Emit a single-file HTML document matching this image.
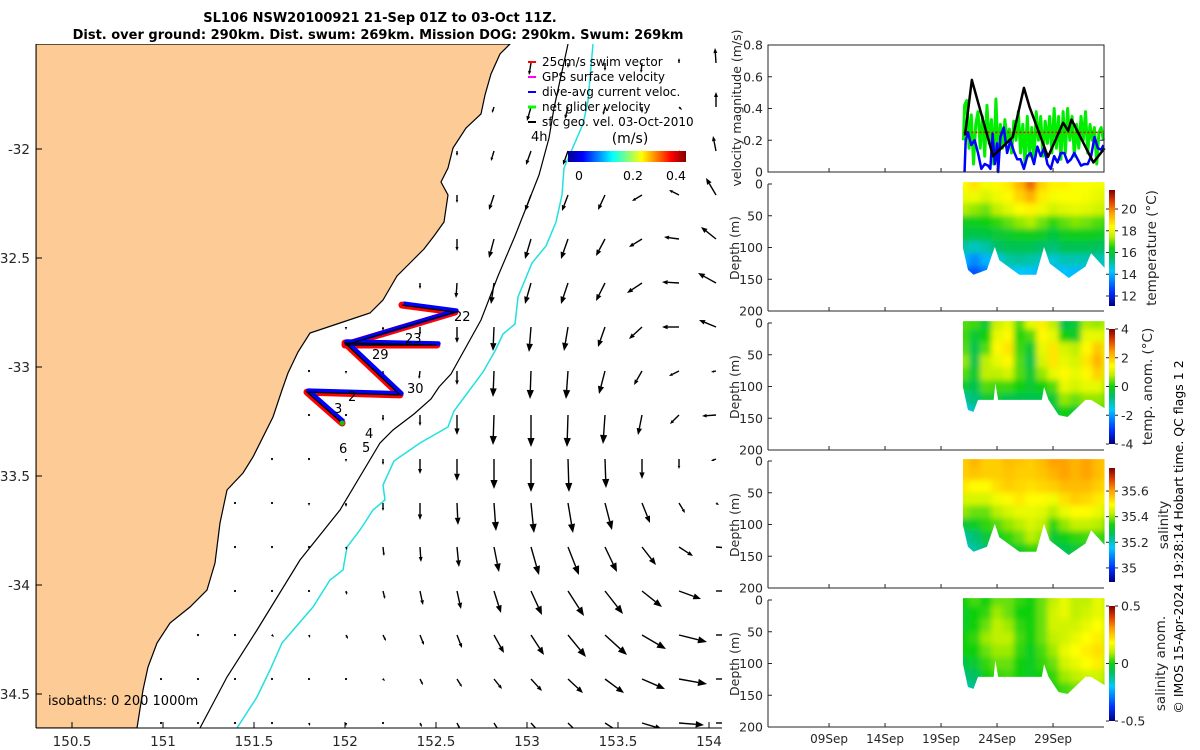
<!DOCTYPE html>
<html><head><meta charset="utf-8">
<style>
html,body{margin:0;padding:0;background:#fff;}
svg{display:block;font-family:"DejaVu Sans","Liberation Sans",sans-serif;}
</style></head>
<body>
<svg id="fig" width="1200" height="750" viewBox="0 0 1200 750" xmlns="http://www.w3.org/2000/svg">
<defs>
  <clipPath id="mapclip"><rect x="36" y="44" width="686" height="684"/></clipPath>
  <linearGradient id="jetH" x1="0" y1="0" x2="1" y2="0">
    <stop offset="0" stop-color="#00008f"/><stop offset="0.125" stop-color="#0000ff"/><stop offset="0.375" stop-color="#00ffff"/><stop offset="0.625" stop-color="#ffff00"/><stop offset="0.875" stop-color="#ff0000"/><stop offset="1" stop-color="#800000"/>
  </linearGradient>
  <linearGradient id="jetV" x1="0" y1="1" x2="0" y2="0">
    <stop offset="0" stop-color="#000080"/><stop offset="0.12" stop-color="#0030ff"/><stop offset="0.3" stop-color="#00c8ff"/><stop offset="0.42" stop-color="#00c060"/><stop offset="0.5" stop-color="#10d010"/><stop offset="0.6" stop-color="#c0f000"/><stop offset="0.68" stop-color="#ffff00"/><stop offset="0.8" stop-color="#ffa000"/><stop offset="0.9" stop-color="#e04000"/><stop offset="1" stop-color="#800000"/>
  </linearGradient>
  <filter id="blur" x="-20%" y="-20%" width="140%" height="140%"><feGaussianBlur stdDeviation="3"/></filter>
</defs>

<text x="380" y="22" text-anchor="middle" font-size="13" font-weight="bold" fill="#000">SL106 NSW20100921 21-Sep 01Z to 03-Oct 11Z.</text>
<text x="378" y="39" text-anchor="middle" font-size="13" font-weight="bold" fill="#000">Dist. over ground: 290km. Dist. swum: 269km. Mission DOG: 290km. Swum: 269km</text>

<g id="map">
  <g clip-path="url(#mapclip)">
    <rect x="36" y="44" width="686" height="684" fill="#fff"/>
    <path fill="#fccb96" stroke="#000" stroke-width="1.2"
      d="M36,44 L510,44 L500,54 L491,74 L485,95 L481,114 L466,128 L453,148 L448,168 L441,182 L448,195 L444,222 L434,236 L424,249 L410,263 L397,276 L383,300 L370,313 L340,323 L310,333 L298,352 L288,373 L282,390 L273,417 L253,457 L243,473 L227,490 L220,523 L215,563 L207,590 L190,607 L170,623 L157,643 L148,667 L143,690 L137,728 L36,728 Z"/>
    <path fill="none" stroke="#000" stroke-width="1.2"
      d="M568,44 L554,108 L549,138 L539,175 L515,236 L498,276 L481,320 L451,374 L439,387 L431,399 L414,414 L393,430 L380,443 L340,510 L300,560 L257,630 L227,677 L200,728"/>
    <path fill="none" stroke="#22e0e0" stroke-width="1.5"
      d="M593,44 L588,101 L583,124 L564,168 L562,195 L556,222 L546,246 L532,263 L518,297 L515,324 L503,334 L495,351 L483,372 L454,411 L448,427 L420,443 L394,461 L383,485 L385,500 L373,510 L360,530 L347,547 L343,570 L330,580 L313,607 L282,643 L270,670 L257,697 L237,728"/>
    <g id="arrows"></g>
    <g id="track"></g>
    <g font-size="13" fill="#000">
      <text x="454" y="321">22</text><text x="405" y="343">23</text><text x="372" y="359">29</text>
      <text x="407" y="393">30</text><text x="348" y="401">2</text><text x="334" y="413">3</text>
      <text x="365" y="438">4</text><text x="362" y="452">5</text><text x="339" y="453">6</text>
      <text x="531" y="141">4h</text>
    </g>
    <g font-size="12" fill="#000">
      <line x1="528" y1="62" x2="536" y2="62" stroke="#f00" stroke-width="2"/><text x="542" y="66">25cm/s swim vector</text>
      <line x1="528" y1="77" x2="536" y2="77" stroke="#f0f" stroke-width="2"/><text x="542" y="81">GPS surface velocity</text>
      <line x1="528" y1="92" x2="536" y2="92" stroke="#00f" stroke-width="2"/><text x="542" y="96">dive-avg current veloc.</text>
      <line x1="528" y1="107" x2="536" y2="107" stroke="#0f0" stroke-width="3"/><text x="542" y="111">net glider velocity</text>
      <line x1="528" y1="122" x2="536" y2="122" stroke="#000" stroke-width="2"/><text x="542" y="126">sfc geo. vel. 03-Oct-2010</text>
    </g>
    <g>
      <text x="630" y="143" text-anchor="middle" font-size="14">(m/s)</text>
      <rect x="568" y="151" width="118" height="11" fill="url(#jetH)"/>
      <text x="579" y="180" text-anchor="middle" font-size="12.5">0</text>
      <text x="633" y="180" text-anchor="middle" font-size="12.5">0.2</text>
      <text x="676" y="180" text-anchor="middle" font-size="12.5">0.4</text>
    </g>
    <text x="48" y="705" font-size="13" fill="#000">isobaths: 0  200  1000m</text>
  </g>
  <line x1="36" y1="44" x2="36" y2="728" stroke="#000" stroke-width="1"/>
  <line x1="36" y1="728" x2="722" y2="728" stroke="#000" stroke-width="1"/>
  <g id="mapticks" font-size="13.5" fill="#262626"></g>
</g>

<g id="right"></g>

<text transform="translate(1183,537) rotate(-90)" text-anchor="middle" font-size="12.5" fill="#000">© IMOS 15-Apr-2024 19:28:14 Hobart time. QC flags 1  2</text>
</svg>

<script>
// ---------- DATA ----------
const lonTicks = [150.5,151,151.5,152,152.5,153,153.5,154];
const latTicks = [-32,-32.5,-33,-33.5,-34,-34.5];
const trackLon = [152.313,152.604,152.0,152.505,152.0,152.302,151.791,151.984];
const trackLat = [-32.716,-32.748,-32.899,-32.899,-32.890,-33.128,-33.115,-33.257];
const velU = [
 [null,null,null,null,null,null,null,null,null,null,-0.02,0,0,-0.01,0,-0.01],
 [null,null,null,null,null,null,null,null,null,-0.02,-0.04,-0.03,-0.02,0,0.03,0],
 [null,null,null,null,null,null,null,null,0,-0.03,-0.05,-0.05,-0.04,-0.03,0.05,-0.03],
 [null,null,null,null,null,null,null,null,0,-0.05,-0.06,-0.06,-0.07,-0.10,-0.10,-0.10],
 [null,null,null,null,null,null,null,null,0,-0.05,-0.06,-0.07,-0.09,-0.13,-0.15,-0.15],
 [null,null,null,null,null,null,null,0,-0.01,-0.03,-0.06,-0.07,-0.09,-0.15,-0.17,-0.18],
 [null,null,null,null,null,0,0,0,0,-0.01,-0.02,-0.04,-0.07,-0.13,-0.17,-0.17],
 [null,null,null,null,0,0,0,-0.01,0,-0.01,-0.01,-0.02,-0.06,-0.08,-0.10,-0.05],
 [null,null,null,null,0,0,0,0,0,-0.01,0,-0.01,-0.02,-0.04,-0.09,-0.14],
 [null,null,null,0,0,0,0,0,0,0,0,0.01,0.01,0,0,-0.05],
 [null,null,0,0,0,0,0,0,0.01,0.02,0.03,0.05,0.07,0.08,0.06,0.03],
 [null,null,0,0,0,0.01,0.01,0.01,0.02,0.05,0.08,0.11,0.12,0.14,0.14,0.12],
 [null,null,0,0,0.01,0.01,0.02,0.03,0.04,0.07,0.11,0.16,0.18,0.20,0.22,0.15],
 [null,0.01,0.01,0.02,0.01,0.02,0.03,0.04,0.05,0.10,0.13,0.18,0.22,0.24,0.28,0.15],
 [0.01,0.01,0.02,0.01,0.01,0.01,0.02,0.03,0.05,0.08,0.11,0.15,0.19,0.23,0.28,0.15],
 [0,0.01,0.02,0.01,0.01,0,0.01,0.02,0.03,0.05,0.08,0.10,0.14,0.20,0.25,0.15]
];
const velV = [
 [null,null,null,null,null,null,null,null,null,null,-0.12,-0.05,-0.08,-0.10,0.05,0.15],
 [null,null,null,null,null,null,null,null,null,-0.06,-0.14,-0.12,-0.08,-0.06,-0.03,0.15],
 [null,null,null,null,null,null,null,null,-0.05,-0.10,-0.14,-0.14,-0.10,-0.08,-0.05,0.15],
 [null,null,null,null,null,null,null,null,-0.08,-0.15,-0.16,-0.16,-0.15,-0.06,0.05,0.17],
 [null,null,null,null,null,null,null,null,-0.12,-0.19,-0.20,-0.20,-0.17,-0.08,0.02,0.12],
 [null,null,null,null,null,null,null,-0.06,-0.15,-0.21,-0.21,-0.21,-0.18,-0.10,0.01,0.10],
 [null,null,null,null,null,-0.03,-0.04,-0.08,-0.16,-0.24,-0.25,-0.24,-0.20,-0.12,0,0.07],
 [null,null,null,null,-0.02,-0.03,-0.05,-0.08,-0.14,-0.26,-0.28,-0.28,-0.23,-0.14,-0.05,-0.01],
 [null,null,null,null,-0.02,-0.02,-0.06,-0.11,-0.20,-0.30,-0.32,-0.32,-0.29,-0.20,-0.09,-0.01],
 [null,null,null,-0.02,-0.02,-0.03,-0.06,-0.15,-0.22,-0.30,-0.33,-0.33,-0.29,-0.20,-0.10,-0.02],
 [null,null,-0.02,-0.02,-0.03,-0.04,-0.08,-0.17,-0.22,-0.28,-0.30,-0.30,-0.27,-0.20,-0.10,-0.02],
 [null,null,-0.02,-0.02,-0.02,-0.03,-0.09,-0.15,-0.20,-0.25,-0.28,-0.28,-0.25,-0.18,-0.09,-0.01],
 [null,null,-0.02,-0.02,-0.02,-0.04,-0.08,-0.14,-0.18,-0.22,-0.24,-0.25,-0.23,-0.16,-0.08,0],
 [null,-0.01,-0.02,-0.02,-0.03,-0.04,-0.06,-0.10,-0.13,-0.18,-0.20,-0.22,-0.20,-0.14,-0.07,0],
 [-0.01,-0.01,-0.01,-0.02,-0.02,-0.01,-0.02,-0.06,-0.08,-0.10,-0.12,-0.14,-0.14,-0.10,-0.05,0],
 [-0.01,-0.01,-0.01,-0.02,-0.03,-0.03,-0.02,-0.04,-0.06,-0.08,-0.09,-0.10,-0.09,-0.06,-0.02,0]
];
const velTicks = [0,0.2,0.4,0.6,0.8];
const timeTickDays = [9,14,19,24,29];
const timeTickLabels = ["09Sep","14Sep","19Sep","24Sep","29Sep"];
const geoT = [21.14,21.75,23.64,25.4,26.4,26.9,28.55,29.9,30.35,30.65,32.6,33.6];
const geoV = [0.23,0.58,0.10,0.22,0.53,0.41,0.095,0.31,0.26,0.33,0.06,0.15];
const dacT = [21.1,21.2,21.4,21.7,22.0,22.3,22.6,22.9,23.2,23.4,23.6,23.8,24.0,24.1,24.3,24.6,24.9,25.2,25.5,25.8,26.1,26.4,26.7,27.0,27.3,27.6,27.9,28.2,28.5,28.8,29.1,29.4,29.7,30.0,30.3,30.6,30.9,31.2,31.5,31.8,32.1,32.4,32.7,33.0,33.3,33.5];
const dacV = [0.0,0.2,0.25,0.17,0.2,0.12,0.02,0.05,0.04,0.02,0.24,0.05,0.18,0.0,0.22,0.28,0.12,0.2,0.13,0.08,0.08,0.02,0.1,0.12,0.05,0.16,0.1,0.15,0.05,0.02,0.1,0.06,0.12,0.12,0.06,0.08,0.12,0.08,0.04,0.05,0.05,0.1,0.22,0.15,0.14,0.17];
const netT = [21.0,21.1,21.3,21.5,21.7,21.9,22.1,22.3,22.5,22.7,22.9,23.1,23.3,23.5,23.7,23.9,24.1,24.3,24.5,24.7,24.9,25.1,25.3,25.5,25.7,25.9,26.1,26.3,26.5,26.7,26.9,27.1,27.3,27.5,27.7,27.9,28.1,28.3,28.5,28.7,28.9,29.1,29.3,29.5,29.7,29.9,30.1,30.3,30.5,30.7,30.9,31.1,31.3,31.5,31.7,31.9,32.1,32.3,32.5,32.7,32.9,33.1,33.3,33.5];
const netV = [0.2,0.42,0.45,0.15,0.36,0.05,0.3,0.38,0.15,0.35,0.1,0.42,0.18,0.33,0.05,0.46,0.1,0.3,0.15,0.33,0.2,0.27,0.12,0.32,0.2,0.38,0.12,0.3,0.05,0.35,0.1,0.28,0.08,0.38,0.2,0.35,0.1,0.32,0.18,0.35,0.12,0.4,0.15,0.35,0.08,0.38,0.12,0.4,0.2,0.35,0.1,0.3,0.15,0.35,0.2,0.38,0.12,0.3,0.2,0.28,0.05,0.25,0.28,0.2];
const swimT = [21.0,33.5];
const swimV = [0.25,0.25];
const secDays = [21,22,23,24,25,26,27,28,29,30,31,32,33,34];
const secDepths = [0,20,40,60,80,100,120,140];
const depthTicks = [0,50,100,150,200];
const bottomDaysT = [20.96,21.4,21.9,23.1,23.8,24.2,26.0,27.5,28.2,28.7,30.4,31.9,32.4,33.6];
const bottomDepthT = [101,135,143,135,99,120,143,143,99,125,148,130,109,132];
const bottomDaysA = [20.96,21.4,21.9,22.3,22.8,23.7,23.85,24.1,28.0,28.2,28.6,29.5,30.3,31.9,32.4,33.6];
const bottomDepthA = [101,137,140,121,121,121,95,121,121,101,121,145,148,121,121,134];
const tempVals = [
 [18.4,18.7,18.2,18.4,18.6,19.3,20.2,18.9,18.5,18.5,18.3,18.3,18.2,18.2],
 [18.1,18.1,17.8,18.1,18.4,18.9,19.4,18.6,18.2,18.3,18.3,18.2,18.0,17.9],
 [17.4,17.2,17.0,17.5,17.9,18.3,18.5,18.1,17.7,17.9,18.0,17.9,17.7,17.5],
 [16.2,16.3,16.4,16.6,16.9,17.2,17.4,17.0,16.6,16.9,17.1,17.0,16.8,16.6],
 [15.9,15.8,15.9,16.0,16.1,16.3,16.3,16.2,15.9,16.2,16.3,16.3,16.2,16.1],
 [15.0,14.8,15.0,15.5,15.7,15.7,15.7,15.5,15.4,15.7,15.7,15.7,15.6,15.4],
 [14.0,13.5,14.0,14.5,15.0,15.1,15.0,14.8,14.6,14.9,14.9,14.9,14.9,14.7],
 [13.0,12.8,13.3,14.0,14.2,14.3,14.2,14.0,14.0,14.2,14.1,14.2,14.1,14.0]
];
const tempAnomVals = [
 [0.3,0.2,-0.3,0.9,1.2,0.3,1.2,1.6,0.8,-0.5,-0.3,0.7,0.6,0.8],
 [0.2,-0.3,0.0,1.2,1.5,0.1,0.3,1.5,1.2,0.0,-0.2,1.2,1.2,1.0],
 [0.3,-0.5,0.3,1.5,1.7,0.2,-0.3,1.2,1.7,1.0,0.8,1.5,2.0,1.2],
 [0.6,-0.5,0.8,1.2,1.5,0.3,-0.5,1.0,1.7,1.2,1.0,1.7,2.2,1.2],
 [0.3,-0.3,0.8,0.8,1.0,0.3,-0.3,0.6,1.2,1.5,1.2,1.5,1.9,1.0],
 [-0.3,-0.5,0.3,0.2,0.2,0.0,-0.3,0.0,0.3,1.2,1.0,1.2,1.2,0.6],
 [-1.0,-0.8,-0.3,-0.3,-0.5,-0.5,-0.5,-0.5,-0.3,0.6,0.4,0.6,0.6,0.4],
 [-1.5,-1.2,-0.5,-0.5,-0.5,-0.5,-0.5,-0.5,-0.5,0.0,-0.3,0.0,0.2,0.2]
];
const salVals = [
 [35.55,35.58,35.55,35.55,35.57,35.56,35.55,35.57,35.6,35.6,35.58,35.6,35.57,35.55],
 [35.55,35.56,35.55,35.55,35.56,35.55,35.55,35.56,35.58,35.6,35.58,35.6,35.57,35.55],
 [35.52,35.5,35.5,35.53,35.55,35.54,35.53,35.54,35.55,35.57,35.57,35.57,35.55,35.53],
 [35.45,35.45,35.45,35.48,35.5,35.52,35.5,35.5,35.48,35.53,35.55,35.54,35.52,35.48],
 [35.4,35.38,35.38,35.42,35.45,35.47,35.47,35.46,35.42,35.47,35.5,35.5,35.47,35.43],
 [35.3,35.32,35.35,35.37,35.4,35.42,35.45,35.43,35.35,35.4,35.43,35.43,35.42,35.38],
 [35.22,35.25,35.3,35.32,35.35,35.38,35.42,35.4,35.3,35.33,35.35,35.36,35.36,35.33],
 [35.18,35.22,35.25,35.28,35.3,35.32,35.35,35.35,35.28,35.28,35.3,35.3,35.3,35.3]
];
const salAnomVals = [
 [0.0,0.03,0.0,0.05,0.05,0.02,0.0,0.05,0.1,0.15,0.1,0.1,0.15,0.1],
 [-0.02,0.0,0.02,0.08,0.05,0.0,0.0,0.05,0.12,0.15,0.1,0.12,0.15,0.12],
 [-0.02,0.0,0.05,0.1,0.08,0.02,0.0,0.05,0.12,0.12,0.12,0.15,0.18,0.12],
 [0.0,0.02,0.08,0.1,0.1,0.03,0.0,0.05,0.1,0.12,0.15,0.18,0.2,0.12],
 [0.0,0.0,0.05,0.08,0.08,0.02,-0.02,0.03,0.08,0.15,0.18,0.2,0.22,0.12],
 [-0.05,-0.03,0.02,0.05,0.05,0.0,-0.02,0.02,0.05,0.12,0.15,0.18,0.2,0.1],
 [-0.1,-0.08,0.0,0.02,0.03,0.0,-0.02,0.0,0.02,0.08,0.1,0.12,0.12,0.08],
 [-0.15,-0.12,-0.03,0.0,0.0,-0.02,-0.02,0.0,0.0,0.03,0.05,0.06,0.08,0.05]
];
const tempCbTicks = [12,14,16,18,20];
const tempAnomCbTicks = [-4,-2,0,2,4];
const salCbTicks = [35,35.2,35.4,35.6];
const salAnomCbTicks = [-0.5,0,0.5];

// ---------- HELPERS ----------
const NS = "http://www.w3.org/2000/svg";
function mk(tag, attrs, parent){ const e=document.createElementNS(NS,tag); for(const k in attrs) e.setAttribute(k,attrs[k]); if(parent) parent.appendChild(e); return e; }
const lonX = lon => 72 + (lon-150.5)*182;
const latY = lat => 149 + (-32-lat)*218;
const CMAP = [[0,[0,0,128]],[0.12,[0,48,255]],[0.3,[0,200,255]],[0.42,[0,192,96]],[0.5,[16,208,16]],[0.6,[192,240,0]],[0.68,[255,255,0]],[0.8,[255,160,0]],[0.9,[224,64,0]],[1,[128,0,0]]];
function cmap(v){ v=Math.max(0,Math.min(1,v));
  for(let i=1;i<CMAP.length;i++){ if(v<=CMAP[i][0]){ const a=CMAP[i-1],b=CMAP[i],f=(v-a[0])/(b[0]-a[0]);
    return `rgb(${[0,1,2].map(k=>Math.round(a[1][k]+(b[1][k]-a[1][k])*f)).join(',')})`; } }
  return 'rgb(128,0,0)'; }

// ---------- MAP TICKS ----------
const mt = document.getElementById('mapticks');
lonTicks.forEach(l=>{
  const x=lonX(l);
  const t=mk('line',{x1:x,y1:728,x2:x,y2:722,stroke:'#000'},mt);
  
  
  const tx=mk('text',{x:x,y:746,'text-anchor':'middle'},mt); tx.textContent=String(l);
  
  
});
latTicks.forEach(l=>{
  const y=latY(l);
  const t=mk('line',{x1:36,y1:y,x2:42,y2:y,stroke:'#000'},mt);
  
  
  const tx=mk('text',{x:30,y:y+5,'text-anchor':'end'},mt); tx.textContent=String(l);
  
  
});

// ---------- ARROWS ----------
const ag = document.getElementById('arrows');
const PXPERMS = 100, col0 = 161, colStep = 37, row0 = 63, rowStep = 44;
velU.forEach((row,r)=>row.forEach((u,c)=>{
  const v = velV[r][c]; if(u===null||v===null) return;
  const x0 = col0 + c*colStep, y0 = row0 + r*rowStep;
  const dx = u*PXPERMS, dy = -v*PXPERMS, L = Math.hypot(dx,dy);
  const g = mk('g',{},ag);
  
  
  if(L<2.5){ mk('circle',{cx:x0,cy:y0,r:1.1,fill:'#000'},g); return; }
  const ux=dx/L, uy=dy/L, x1=x0+dx, y1=y0+dy;
  const hl=Math.min(9,Math.max(3,L*0.33)), hw=hl*0.4;
  const bx=x1-ux*hl, by=y1-uy*hl;
  mk('line',{x1:x0,y1:y0,x2:bx,y2:by,stroke:'#000','stroke-width':1.4},g);
  mk('polygon',{points:`${x1},${y1} ${bx-uy*hw},${by+ux*hw} ${bx+uy*hw},${by-ux*hw}`,fill:'#000'},g);
}));

// ---------- TRACK ----------
const tg = document.getElementById('track');
const tpts = trackLon.map((l,i)=>`${lonX(l)},${latY(trackLat[i])}`).join(' ');
const tpR = mk('polyline',{points:tpts,fill:'none',stroke:'#f00','stroke-width':7,'stroke-linejoin':'round','stroke-linecap':'round'},tg);


const tpB = mk('polyline',{points:trackLon.map((l,i)=>`${lonX(l)+1.5},${latY(trackLat[i])-1.5}`).join(' '),fill:'none',stroke:'#0000ff','stroke-width':4.5,'stroke-linejoin':'round'},tg);


const tpK = mk('polyline',{points:tpts,fill:'none',stroke:'#000','stroke-width':1.3},tg);


mk('circle',{cx:lonX(trackLon[7]),cy:latY(trackLat[7]),r:2.5,fill:'#0c0'},tg);

// ---------- RIGHT PANELS ----------
const R = document.getElementById('right');
const PX0=768, PX1=1104, T0=3.55, T1=33.55;
const tX = t => PX0 + (t-T0)/(T1-T0)*(PX1-PX0);

function txt(parent,x,y,s,anchor,size,name){
  const e=mk('text',{x:x,y:y,'text-anchor':anchor||'end','font-size':size||12.5,fill:'#262626'},parent); e.textContent=s;
  
  
  return e;
}
function vlabel(parent,x,y,s,size,name){
  const e=mk('text',{transform:`translate(${x},${y}) rotate(-90)`,'text-anchor':'middle','font-size':size||12.5,fill:'#262626'},parent); e.textContent=s;
  
  
}

(function(){
  const top=45, bot=172;
  const vY = v => bot - v/0.8*(bot-top);
  const g = mk('g',{},R);
  
  
  const mkLine=(T,V,color,w,name,dash)=>{
    const p=mk('polyline',{points:T.map((t,i)=>`${tX(t)},${vY(V[i])}`).join(' '),fill:'none',stroke:color,'stroke-width':w,'stroke-linejoin':'round'},g);
    if(dash) p.setAttribute('stroke-dasharray',dash);
    
    
  };
  mkLine(netT,netV,'#00ee00',3,'net-glider-velocity-line');
  mkLine(swimT,swimV,'#f00',1.5,'swim-speed-line','2,2');
  mkLine(dacT,dacV,'#0000ff',2.5,'dive-avg-current-line');
  mkLine(geoT,geoV,'#000',2.5,'sfc-geo-velocity-line');
  mk('rect',{x:PX0,y:top,width:PX1-PX0,height:bot-top,fill:'none',stroke:'#262626','stroke-width':1},g);
  velTicks.forEach(v=>{
    mk('line',{x1:PX0,y1:vY(v),x2:PX0+4,y2:vY(v),stroke:'#262626'},g);
    mk('line',{x1:PX1,y1:vY(v),x2:PX1-4,y2:vY(v),stroke:'#262626'},g);
    txt(g,763,vY(v)+4.5,String(v),'end',12.5,'velocity-tick-label');
  });
  timeTickDays.forEach(d=>{ mk('line',{x1:tX(d),y1:bot,x2:tX(d),y2:bot-4,stroke:'#262626'},g); });
  vlabel(g,741,108,'velocity magnitude (m/s)',12.5,'velocity-axis-title');
})();

function section(top,vals,vmin,vmax,bDays,bDepth,cbTop,cbBot,cbTicks,cbTitle,cbTitleX,showTime,name){
  const bot = top+127;
  const dY = d => top + d/200*(bot-top);
  const g = mk('g',{},R);
  
  
  const id='clip'+top;
  const cp=mk('clipPath',{id:id},g);
  const pts=[`${tX(bDays[0])},${dY(-3)}`,`${tX(bDays[bDays.length-1])},${dY(-3)}`];
  for(let i=bDays.length-1;i>=0;i--) pts.push(`${tX(bDays[i])},${dY(bDepth[i])}`);
  mk('polygon',{points:pts.join(' ')},cp);
  const outer=mk('g',{'clip-path':`url(#${id})`},g);
  const inner=mk('g',{filter:'url(#blur)'},outer);
  vals.forEach((row,r)=>row.forEach((v,c)=>{
    const t=secDays[c];
    const x0=tX(t-0.5-(c===0?2:0)), x1=tX(t+0.5);
    const d0=secDepths[r]-10-(r===0?15:0), d1=secDepths[r]+10+(r===vals.length-1?60:0);
    const cell=mk('rect',{x:x0,y:dY(d0),width:x1-x0+0.5,height:dY(d1)-dY(d0)+0.5,fill:cmap((v-vmin)/(vmax-vmin))},inner);
    
    
  }));
  mk('line',{x1:PX0,y1:top,x2:PX0,y2:bot,stroke:'#262626'},g);
  mk('line',{x1:PX0,y1:bot,x2:PX1,y2:bot,stroke:'#262626'},g);
  depthTicks.forEach(d=>{
    mk('line',{x1:PX0,y1:dY(d),x2:PX0+4,y2:dY(d),stroke:'#262626'},g);
    txt(g,763,dY(d)+4.5,String(d),'end',12.5,'depth-tick-label');
  });
  timeTickDays.forEach((d,i)=>{
    mk('line',{x1:tX(d),y1:bot,x2:tX(d),y2:bot-4,stroke:'#262626'},g);
    if(showTime) txt(g,tX(d),bot+16,timeTickLabels[i],'middle',12,'time-tick-label');
  });
  vlabel(g,739,top+64,'Depth (m)',12.5,'depth-axis-title');
  const cb=mk('rect',{x:1109,y:cbTop,width:6,height:cbBot-cbTop,fill:'url(#jetV)'},g);
  
  
  const cY = v => cbBot - (v-vmin)/(vmax-vmin)*(cbBot-cbTop);
  cbTicks.forEach(v=>{
    mk('line',{x1:1115,y1:cY(v),x2:1118,y2:cY(v),stroke:'#262626'},g);
    mk('line',{x1:1106,y1:cY(v),x2:1109,y2:cY(v),stroke:'#262626'},g);
    txt(g,1121,cY(v)+4.5,String(v),'start',12.5,'colorbar-tick-label');
  });
  cbTitle.forEach((s,i)=>vlabel(g,cbTitleX[i],(cbTop+cbBot)/2,s,13.5,'colorbar-title'));
}
section(184,tempVals,11.08,21.75,bottomDaysT,bottomDepthT,190,306,tempCbTicks,['temperature (°C)'],[1156],false,'temperature-section');
section(323,tempAnomVals,-4,4,bottomDaysA,bottomDepthA,329,444,tempAnomCbTicks,['temp. anom. (°C)'],[1152],false,'temp-anomaly-section');
section(461,salVals,34.89,35.78,bottomDaysT,bottomDepthT,468,582,salCbTicks,['salinity'],[1168],false,'salinity-section');
section(600,salAnomVals,-0.5,0.5,bottomDaysA,bottomDepthA,606,721,salAnomCbTicks,['salinity anom.'],[1165],true,'salinity-anomaly-section');
</script>
</body></html>
